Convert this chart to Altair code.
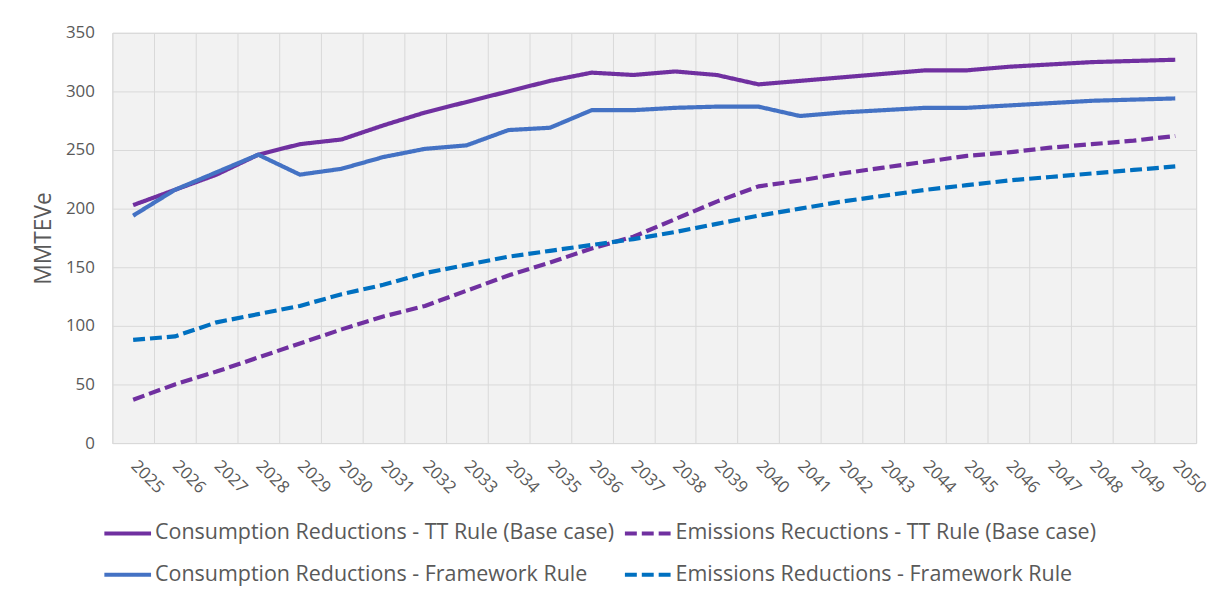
import altair as alt
import pandas as pd

years = [str(y) for y in range(2025, 2051)]

series_names = [
    "Consumption Reductions - TT Rule (Base case)",
    "Emissions Recuctions - TT Rule (Base case)",
    "Consumption Reductions - Framework Rule",
    "Emissions Reductions - Framework Rule",
]

cons_tt = [203, 216, 229, 246, 255, 259, 271, 282, 291, 300, 309, 316, 314,
           317, 314, 306, 309, 312, 315, 318, 318, 321, 323, 325, 326, 327]
em_tt = [37, 50, 61, 73, 85, 97, 108, 117, 130, 143, 154, 166, 176,
         191, 206, 219, 224, 230, 235, 240, 245, 248, 252, 255, 258, 262]
cons_fw = [194, 216, 231, 246, 229, 234, 244, 251, 254, 267, 269, 284, 284,
           286, 287, 287, 279, 282, 284, 286, 286, 288, 290, 292, 293, 294]
em_fw = [88, 91, 103, 110, 117, 127, 135, 145, 152, 159, 164, 169, 174,
         180, 187, 194, 200, 206, 211, 216, 220, 224, 227, 230, 233, 236]

# legend lays out column by column: order so that rows read TT / Framework
legend_order = [series_names[0], series_names[2], series_names[1], series_names[3]]
colors = ["#7030A0", "#4472C4", "#7030A0", "#0070C0"]
dashes = [[1, 0], [1, 0], [12, 5], [12, 5]]

rows = []
for name, vals in zip(series_names, [cons_tt, em_tt, cons_fw, em_fw]):
    for y, v in zip(years, vals):
        rows.append({"Year": y, "Value": v, "Series": name})
df = pd.DataFrame(rows)

FONT = "Open Sans"
TXT = "#595959"
GRID = "#D9D9D9"

chart = alt.Chart(df).mark_line(strokeWidth=4.2, strokeJoin="round").encode(
    x=alt.X("Year:O", bandPosition=0.5,
            scale=alt.Scale(type="band", paddingInner=0, paddingOuter=0, domain=years),
            axis=alt.Axis(title=None, labelAngle=45, labelBaseline="middle",
                          tickBand="extent", grid=True,
                          gridColor=GRID, gridWidth=1, ticks=False, tickSize=0,
                          domainColor=GRID, labelPadding=20,
                          labelFont=FONT, labelFontSize=17, labelColor=TXT)),
    y=alt.Y("Value:Q",
            scale=alt.Scale(domain=[0, 350], nice=False),
            axis=alt.Axis(title="MMTEVe", values=list(range(0, 351, 50)), grid=True,
                          gridColor=GRID, gridWidth=1, ticks=False, tickSize=0,
                          domain=False, labelPadding=18,
                          labelFont=FONT, labelFontSize=17, labelColor=TXT,
                          titleFont=FONT, titleFontSize=23, titleColor=TXT,
                          titleFontWeight="normal", titlePadding=10)),
    color=alt.Color("Series:N",
                    scale=alt.Scale(domain=legend_order, range=colors),
                    sort=legend_order,
                    legend=alt.Legend(title=None, orient="none", legendX=-10, legendY=478,
                                      columns=2, columnPadding=2, rowPadding=5,
                                      symbolType="stroke", symbolSize=2209,
                                      symbolStrokeWidth=4, labelOffset=2,
                                      labelFont=FONT, labelFontSize=21.6, labelColor=TXT,
                                      labelLimit=600)),
    strokeDash=alt.StrokeDash("Series:N",
                              scale=alt.Scale(domain=legend_order, range=dashes),
                              sort=legend_order),
).properties(
    width=1091, height=413,
    autosize=alt.AutoSizeParams(type="none"),
    padding={"left": 105, "top": 23, "right": 17, "bottom": 155},
    background="white",
).configure_view(fill="#F2F2F2", stroke=GRID, strokeWidth=1)

chart.save("out.html", embed_options={"renderer": "svg", "actions": False})
